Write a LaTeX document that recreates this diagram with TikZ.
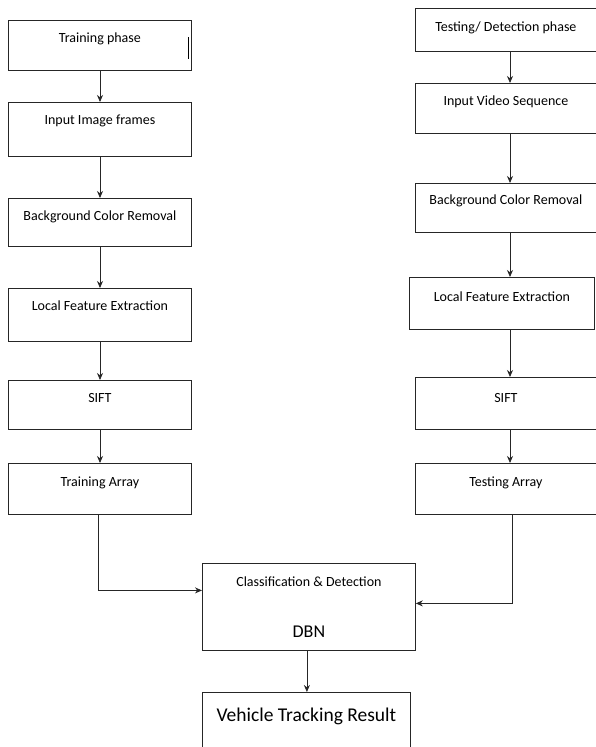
\documentclass[tikz,border=0pt]{standalone}
\usepackage{fontspec}
\setmainfont{Carlito}
\usetikzlibrary{arrows.meta}

\begin{document}
\begin{tikzpicture}[x=1pt, y=-1pt,
    stage/.style={draw=black!85, line width=0.8pt, anchor=north west, minimum width=183pt,
      inner xsep=2pt, inner ysep=0pt, font=\fontsize{14}{17}\selectfont, text height=22pt},
    flow/.style={draw=black!85, line width=0.8pt, -{Stealth[length=7pt, width=6pt]}}]
    \useasboundingbox (0,0) rectangle (596,747);

    % Column axes for the arrows
    \coordinate (trAxis) at (100,0);
    \coordinate (teAxis) at (510,0);

    % Training column
    \node[stage, text depth=28pt] (trPhase) at (8,20) {Training phase};
    \node[stage, text depth=32pt] (trInput) at (8,102) {Input Image frames};
    \node[stage, text depth=26pt] (trBack) at (8,198) {Background Color Removal};
    \node[stage, text depth=31pt] (trLocal) at (8,288) {Local Feature Extraction};
    \node[stage, text depth=27pt] (trSift) at (8,380) {SIFT};
    \node[stage, text height=23pt, text depth=28pt] (trArray) at (8,463) {Training Array};

    % Text cursor left in the first box
    \draw[line width=1pt] (188,37) -- (188,59);

    % Testing column
    \node[stage, minimum width=181pt, text height=23pt, text depth=20pt] (tePhase) at (415,8) {Testing/ Detection phase};
    \node[stage, minimum width=181pt, text depth=28pt] (teInput) at (415,83) {Input Video Sequence};
    \node[stage, minimum width=181pt, text height=21pt, text depth=28pt] (teBack) at (415,183) {Background Color Removal};
    \node[stage, minimum width=185pt, text height=24pt, text depth=28pt] (teLocal) at (409,277) {Local Feature Extraction};
    \node[stage, minimum width=181pt, text height=25pt, text depth=27pt] (teSift) at (415,377) {SIFT};
    \node[stage, minimum width=181pt, text height=23pt, text depth=28pt] (teArray) at (415,463) {Testing Array};

    % Classifier and result
    \node[stage, minimum width=213pt, minimum height=87pt, text height=, align=center] (classify) at (202,563)
        {\fontsize{14}{17}\selectfont Classification \& Detection\\[34pt]\fontsize{18}{17}\selectfont DBN};
    \node[stage, minimum width=208pt, text height=29pt, text depth=50pt, font=\fontsize{19.5}{23}\selectfont] (result) at (202,692) {Vehicle Tracking Result};

    % Arrows, training side
    \draw[flow] (trPhase.south -| trAxis) -- (trInput.north -| trAxis);
    \draw[flow] (trInput.south -| trAxis) -- (trBack.north -| trAxis);
    \draw[flow] (trBack.south -| trAxis) -- (trLocal.north -| trAxis);
    \draw[flow] (trLocal.south -| trAxis) -- (trSift.north -| trAxis);
    \draw[flow] (trSift.south -| trAxis) -- (trArray.north -| trAxis);
    \draw[flow] ([xshift=-2pt]trArray.south) |- ([yshift=16.5pt]classify.west);

    % Arrows, testing side
    \draw[flow] (tePhase.south -| teAxis) -- (teInput.north -| teAxis);
    \draw[flow] (teInput.south -| teAxis) -- (teBack.north -| teAxis);
    \draw[flow] (teBack.south -| teAxis) -- (teLocal.north -| teAxis);
    \draw[flow] (teLocal.south -| teAxis) -- (teSift.north -| teAxis);
    \draw[flow] (teSift.south -| teAxis) -- (teArray.north -| teAxis);
    \draw[flow] ([xshift=6pt]teArray.south) |- ([yshift=3.5pt]classify.east);

    \draw[flow] ([xshift=-2pt]classify.south) -- ([xshift=-2pt]classify.south |- result.north);
\end{tikzpicture}
\end{document}
